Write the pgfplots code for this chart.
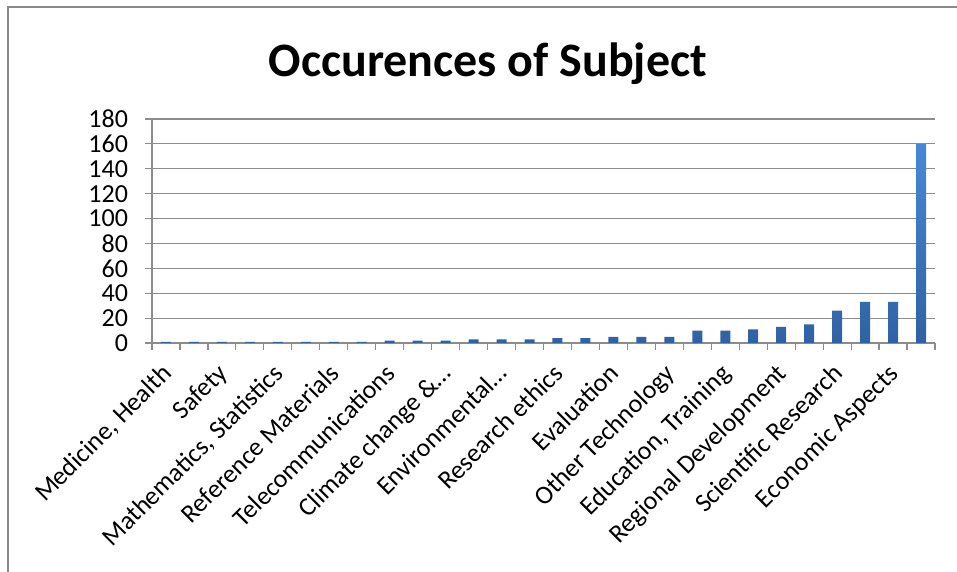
\documentclass[border=0pt]{standalone}
\usepackage{fontspec}
\setmainfont{Carlito}
\usepackage{pgfplots}
\pgfplotsset{compat=1.18}
\definecolor{gridc}{HTML}{8C8C8C}
\definecolor{framec}{HTML}{8A8A8A}
\definecolor{bartop}{HTML}{4688D6}
\definecolor{barbot}{HTML}{2F62A4}
\begin{document}
\begin{tikzpicture}
\useasboundingbox (0,0) rectangle (478.5pt,286pt);
\draw[color=framec, line width=1.2pt] (4pt,0) -- (4pt,282.5pt) -- (478.5pt,282.5pt);
\node[font=\bfseries\fontsize{24}{28}\selectfont] at (244pt,254pt) {Occurences of Subject};
\begin{axis}[
  at={(76pt,114.5pt)}, anchor=south west,
  scale only axis, width=391.5pt, height=112pt,
  xmin=-0.5, xmax=27.5, ymin=0, ymax=180,
  ytick={0,20,...,180},
  ymajorgrids, grid style={color=gridc, line width=0.6pt},
  axis lines*=left,
  axis line style={color=gridc, line width=0.6pt},
  tick align=outside,
  ytick style={color=gridc, line width=0.6pt},
  major tick length=3.5pt,
  xtick={0,2,...,26},
  xticklabels={{Medicine, Health},{Safety},{Mathematics, Statistics},{Reference Materials},{Telecommunications},{Climate change \&\ldots},{Environmental\ldots},{Research ethics},{Evaluation},{Other Technology},{Education, Training},{Regional Development},{Scientific Research},{Economic Aspects}},
  major x tick style={draw=none},
  minor xtick={-0.5,0.5,...,27.5},
  minor x tick style={color=gridc, line width=0.6pt},
  minor tick length=3.5pt,
  /pgf/number format/assume math mode=true,
  yticklabel style={font=\fontsize{13}{15}\selectfont, xshift=-5pt},
  xticklabel style={font=\fontsize{13}{15}\selectfont, xshift=-3pt, yshift=-4.5pt, rotate=45, anchor=north east, inner sep=1pt},
  ybar, bar width=5pt,
]
\addplot[draw=none, top color=bartop, bottom color=barbot] coordinates {
(0,1)(1,1)(2,1)(3,1)(4,1)(5,1)(6,1)(7,1)
(8,2)(9,2)(10,2)(11,3)(12,3)(13,3)(14,4)(15,4)
(16,5)(17,5)(18,5)(19,10)(20,10)(21,11)(22,13)(23,15)
(24,26)(25,33)(26,33)(27,160)};
\end{axis}
\end{tikzpicture}
\end{document}
